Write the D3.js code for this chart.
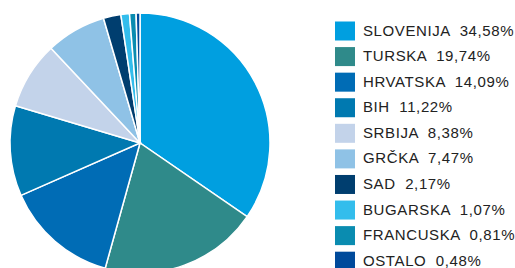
<!DOCTYPE html>
<html>
<head>
<meta charset="utf-8">
<script src="https://cdn.jsdelivr.net/npm/d3@7"></script>
<style>
  body { margin: 0; background: #fff; }
  svg { display: block; }
</style>
</head>
<body>
<script>
// countries and their share in percent
var countries = ['SLOVENIJA', 'TURSKA', 'HRVATSKA', 'BIH', 'SRBIJA', 'GRČKA', 'SAD', 'BUGARSKA', 'FRANCUSKA', 'OSTALO'];
var shares = [34.58, 19.74, 14.09, 11.22, 8.38, 7.47, 2.17, 1.07, 0.81, 0.48];
var colors = ['#009fe0', '#2f8a8a', '#006cb5', '#0079b0', '#c3d3ea', '#8fc2e6', '#003e6f', '#33bdec', '#0a8cb0', '#004a9b'];

var width = 515, height = 268;
var cx = 140, cy = 143, radius = 130;

var data = countries.map(function(c, i) {
  return {name: c, value: shares[i], color: colors[i]};
});

var svg = d3.select('body').append('svg')
  .attr('width', width)
  .attr('height', height);

var pie = d3.pie()
  .sort(null)
  .value(function(d) { return d.value; });

var arc = d3.arc()
  .innerRadius(0)
  .outerRadius(radius);

svg.append('g')
  .attr('transform', 'translate(' + cx + ',' + cy + ')')
  .selectAll('path')
  .data(pie(data))
  .enter().append('path')
  .attr('d', arc)
  .attr('fill', function(d) { return d.data.color; })
  .attr('stroke', '#fff')
  .attr('stroke-width', 1.5);

// legend
var y = d3.scaleBand()
  .domain(countries)
  .range([21.5, 270.7])
  .paddingInner(0.257);

var rows = svg.append('g').selectAll('g')
  .data(data)
  .enter().append('g')
  .attr('transform', function(d) { return 'translate(335,' + y(d.name) + ')'; });

rows.append('rect')
  .attr('width', 20)
  .attr('height', y.bandwidth())
  .attr('fill', function(d) { return d.color; });

rows.append('text')
  .attr('x', 28)
  .attr('y', 14)
  .attr('font-family', 'Liberation Sans, Arial, sans-serif')
  .attr('font-size', 15)
  .attr('letter-spacing', 0.6)
  .attr('fill', '#222')
  .style('white-space', 'pre')
  .text(function(d) { return d.name + '  ' + d.value.toFixed(2).replace('.', ',') + '%'; });
</script>
</body>
</html>
